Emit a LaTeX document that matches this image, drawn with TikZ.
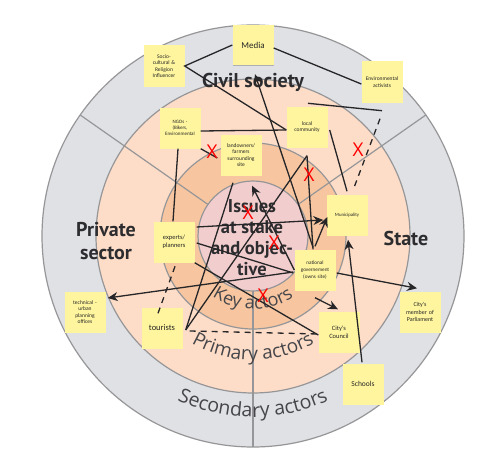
\documentclass[tikz,border=0pt]{standalone}
\usepackage{fontspec}
\setmainfont{PT Sans}
\newfontfamily\opensans{Open Sans}
\newfontfamily\notefont{Carlito}
\usetikzlibrary{arrows.meta,calc,decorations.text,shadows}
\definecolor{gring}{RGB}{224,225,229}
\definecolor{peach}{RGB}{253,221,200}
\definecolor{keyring}{RGB}{247,198,160}
\definecolor{pinkc}{RGB}{242,205,205}
\definecolor{bord}{RGB}{150,150,152}
\definecolor{notey}{RGB}{254,245,158}
\definecolor{lk}{RGB}{38,38,40}
\definecolor{hd}{RGB}{45,45,48}
\definecolor{labgray}{RGB}{70,70,74}
\begin{document}
\begin{tikzpicture}[x=1pt,y=-1pt,
  note/.style={fill=notey, minimum width=41pt, minimum height=41pt, inner sep=1pt,
    align=center, text width=39pt, text=black!85,
    font=\notefont\fontsize{5.5}{6.5}\selectfont,
    drop shadow={shadow xshift=0.8pt, shadow yshift=-0.9pt, opacity=0.22, fill=black}},
  conn/.style={draw=lk, line width=1.3pt},
  arr/.style={conn, -{Stealth[length=10pt,width=9pt]}},
  dsh/.style={conn, dash pattern=on 6pt off 5pt},
  xmark/.style={text=red, inner sep=0pt, font=\opensans\fontsize{19}{19}\selectfont},
  head/.style={font=\bfseries\fontsize{20}{23}\selectfont, text=hd, align=center, inner sep=0pt},
  ring/.style={draw=bord, line width=1.2pt},
]
\useasboundingbox (0,0) rectangle (498,460);
\fill[white] (0,0) rectangle (498,460);
\coordinate (C) at (253,236);
% rings
\fill[gring] (C) circle[radius=211];
\fill[peach] (C) circle[radius=157];
\fill[keyring] (C) circle[radius=93];
\fill[pinkc] (C) circle[radius=55];
\begin{scope}[shift={(253,236)}, y=1pt]
  \foreach \a in {35,145,270} \draw[bord, line width=1.2pt] (\a:55) -- (\a:211);
  \draw[ring] (0,0) circle[radius=211];
  \draw[ring] (0,0) circle[radius=157];
  \draw[ring] (0,0) circle[radius=93];
  \draw[ring] (0,0) circle[radius=55];
  \path[decorate, decoration={text along path, text align=center, text color=labgray,
     text={|\opensans\fontsize{18}{18}\selectfont|Key actors}}]
     (200:73) arc[start angle=200, end angle=340, radius=73];
  \path[decorate, decoration={text along path, text align=center, text color=labgray,
     text={|\opensans\fontsize{19}{19}\selectfont|Primary actors}}]
     (200:124) arc[start angle=200, end angle=340, radius=124];
  \path[decorate, decoration={text along path, text align=center, text color=labgray,
     text={|\opensans\fontsize{19.5}{19.5}\selectfont|Secondary actors}}]
     (200:181) arc[start angle=200, end angle=340, radius=181];
\end{scope}
% headings
\node[head] (civil) at (253,82) {Civil society};
\node[head] (priv) at (106,241) {Private\\sector};
\node[head] (state) at (406,238) {State};
\node[head, font=\bfseries\fontsize{18.5}{21}\selectfont] (issues) at (252,238) {Issues\\at stake\\and objec-\\tive};
% notes
\node[note, minimum width=40pt, minimum height=40pt, font=\notefont\fontsize{9}{10}\selectfont] (media) at (253,45) {Media};
\node[note] (socio) at (164,66) {Socio-\\cultural \&\\Religion\\Influencer};
\node[note] (envact) at (382,82) {Environmental\\activists};
\node[note] (localc) at (307,127) {local\\community};
\node[note, font=\notefont\fontsize{5}{6}\selectfont] (ngos) at (180,128) {NGOs -\\(Bikers,\\Environmental};
\node[note] (landown) at (241,155) {landowners/\\farmers\\surrounding\\site};
\node[note, font=\notefont\fontsize{4.8}{6}\selectfont] (munic) at (347,215) {Municipality};
\node[note, font=\notefont\fontsize{5.2}{6.6}\selectfont] (natgov) at (315,270) {national\\governement\\(owns site)};
\node[note, font=\notefont\fontsize{6.5}{8}\selectfont] (experts) at (174,242) {experts/\\planners};
\node[note] (tech) at (85,312) {technical -\\urban\\planning\\offices};
\node[note, font=\notefont\fontsize{8.5}{10}\selectfont] (tourists) at (162,328) {tourists};
\node[note, font=\notefont\fontsize{6.5}{8}\selectfont] (council) at (339,332) {City's\\Council};
\node[note, font=\notefont\fontsize{6}{7.5}\selectfont] (mp) at (420,312) {City's\\member of\\Parliament};
\node[note, font=\notefont\fontsize{7.5}{9}\selectfont] (schools) at (363,384) {Schools};
% connectors
\draw[conn] (media.west) -- (socio.east) -- ($(localc.west)+(0,3)$);
\draw[conn] ($(media.east)+(0,3)$) -- ($(envact.west)+(0,2)$);
\draw[arr] ($(natgov.north)+(-2,-2)$) -- ($(media.south)+(2,9)$);
\draw[conn] ($(ngos.east)+(0,3)$) -- ($(localc.west)+(0,3)$);
\draw[conn] ($(localc.north)+(1,-3)$) -- ($(envact.south)+(0,8)$);
\draw[dsh] ($(envact.south)+(-2,16)$) -- ($(munic.north)+(6,-4)$);
\draw[conn] ($(localc.east)+(2,3)$) -- ($(munic.north)+(0,-3)$);
\draw[conn] (ngos.south east) -- ($(landown.west)+(-3,3)$);
\draw[conn] ($(ngos.south)+(-2,0)$) -- ($(experts.north)+(-1,0)$);
\draw[conn] ($(localc.south)+(0,8)$) -- ($(natgov.north)+(-2,0)$);
\draw[conn] ($(tourists.east)+(3,2)$) -- ($(localc.south)+(0,8)$);
\draw[conn] ($(tourists.east)+(3,2)$) -- ($(landown.south)+(-8,7)$);
\draw[arr] (natgov.west) -- ($(landown.south)+(11,10)$);
\draw[arr] ($(experts.east)+(2,-15)$) -- ($(munic.west)+(-3,5)$);
\draw[arr] ($(natgov.north)+(0,-3)$) -- ($(munic.west)+(1,2)$);
\draw[conn] ($(experts.east)+(2,1)$) -- ($(natgov.west)+(-1,3)$);
\draw[arr] ($(natgov.west)+(-1,2)$) -- ($(tech.east)+(2,-14)$);
\draw[conn] (experts.south east) -- ($(council.west)+(0,3)$);
\draw[arr] ($(natgov.south)+(0,7)$) -- ($(council.north)+(-1,-2)$);
\draw[arr] ($(natgov.east)+(1,3)$) -- ($(mp.north)+(-3,-3)$);
\draw[arr] ($(schools.north)+(-1,-1)$) -- ($(munic.south)+(1,4)$);
\draw[dsh] ($(tourists.east)+(7,3)$) -- ($(council.west)+(0,2)$);
\draw[dsh] ($(tourists.north)+(-4,6)$) -- ($(experts.south)+(2,1)$);
% red crosses
\node[xmark] (x1) at (212,152) {X};
\node[xmark] (x2) at (358,150) {X};
\node[xmark] (x3) at (309,175) {X};
\node[xmark] (x4) at (248,213) {X};
\node[xmark] (x5) at (274,243) {X};
\node[xmark] (x6) at (263,296) {X};
\end{tikzpicture}
\end{document}
